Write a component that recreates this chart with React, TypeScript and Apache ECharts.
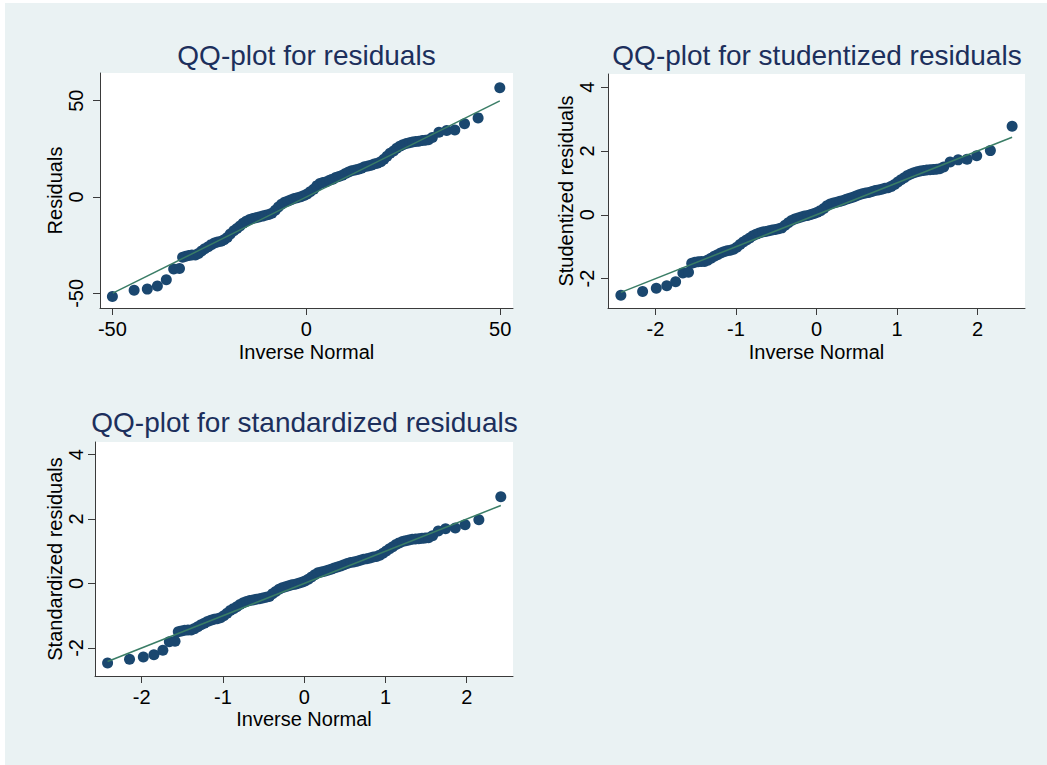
import React, { useEffect, useRef } from "react";
import * as echarts from "echarts";

// ---------- data ----------
// Panel 1: residuals
const residX = [
  -50.0, -44.4, -41.0, -38.4, -36.1, -34.2, -32.7,
  -31.9, -31.1, -30.3, -29.5, -28.6, -27.8, -27.0, -26.2, -25.3, -24.5, -23.7, -22.9, -22.0, -21.2, -20.4, -19.6,
  -18.7, -17.9, -17.1, -16.3, -15.5, -14.6, -13.8, -13.0, -12.2, -11.3, -10.5, -9.7, -8.9, -8.0, -7.2, -6.4,
  -5.6, -4.7, -3.9, -3.1, -2.3, -1.4, -0.6, 0.2, 1.0, 1.9, 2.7, 3.5, 4.3, 5.2, 6.0, 6.8, 7.6, 8.4, 9.3, 10.1,
  10.9, 11.7, 12.6, 13.4, 14.2, 15.0, 15.9, 16.7, 17.5, 18.3, 19.2, 20.0, 20.8, 21.6, 22.5, 23.3, 24.1, 24.9,
  25.8, 26.6, 27.4, 28.2, 29.0, 29.9, 30.7, 31.5, 32.5,
  34.2, 36.2, 38.3, 40.8, 44.3, 49.9,
];
const residY = [
  -51.6, -48.4, -47.8, -46.2, -42.9, -37.4, -37.1,
  -31.3, -30.7, -30.3, -30.1, -30.1, -29.3, -28.0, -26.8, -25.8, -24.7, -23.9, -23.3, -22.9, -22.2, -21.0, -19.2,
  -17.5, -16.3, -15.0, -13.6, -12.6, -11.7, -11.1, -10.7, -10.3, -9.9, -9.5, -9.1, -8.4, -6.8, -5.2, -3.7,
  -2.7, -2.1, -1.4, -0.8, -0.4, 0.2, 0.8, 1.6, 2.7, 4.1, 5.8, 7.0, 7.6, 8.0, 8.7, 9.3, 10.1, 10.7, 11.3, 12.2,
  13.0, 13.6, 14.0, 14.4, 15.0, 15.7, 16.1, 16.5, 17.1, 17.5, 18.3, 19.6, 21.2, 22.7, 23.9, 25.3, 26.4, 27.2,
  27.8, 28.2, 28.6, 28.8, 29.0, 29.3, 29.5, 29.7, 30.9,
  33.6, 34.6, 34.8, 38.0, 41.1, 56.8,
];
const residLineX = [-49.9, 49.9];
const residLineY = [-49.9, 49.9];

// Panel 2: studentized residuals
const studX = [
  -2.43, -2.16, -1.99, -1.86, -1.75, -1.66, -1.59,
  -1.55, -1.51, -1.47, -1.43, -1.39, -1.35, -1.31, -1.27, -1.23, -1.19, -1.15, -1.11, -1.07, -1.03, -0.99, -0.95,
  -0.91, -0.87, -0.83, -0.79, -0.75, -0.71, -0.67, -0.63, -0.59, -0.55, -0.51, -0.47, -0.43, -0.39, -0.35, -0.31,
  -0.27, -0.23, -0.19, -0.15, -0.11, -0.07, -0.03, 0.01, 0.05, 0.09, 0.13, 0.17, 0.21, 0.25, 0.29, 0.33, 0.37,
  0.41, 0.45, 0.49, 0.53, 0.57, 0.61, 0.65, 0.69, 0.73, 0.77, 0.81, 0.85, 0.89, 0.93, 0.97, 1.01, 1.05, 1.09,
  1.13, 1.17, 1.21, 1.25, 1.29, 1.33, 1.37, 1.41, 1.45, 1.49, 1.53, 1.58,
  1.66, 1.76, 1.87, 1.99, 2.16, 2.43,
];
const studY = [
  -2.52, -2.40, -2.30, -2.22, -2.10, -1.82, -1.80,
  -1.52, -1.49, -1.47, -1.46, -1.46, -1.42, -1.36, -1.30, -1.25, -1.20, -1.16, -1.13, -1.11, -1.08, -1.02, -0.93,
  -0.85, -0.79, -0.73, -0.66, -0.61, -0.57, -0.54, -0.52, -0.50, -0.48, -0.46, -0.44, -0.41, -0.33, -0.25, -0.18,
  -0.13, -0.10, -0.07, -0.04, -0.02, 0.01, 0.04, 0.08, 0.13, 0.20, 0.28, 0.34, 0.37, 0.39, 0.42, 0.45, 0.49,
  0.52, 0.55, 0.59, 0.63, 0.66, 0.68, 0.70, 0.73, 0.76, 0.78, 0.80, 0.83, 0.85, 0.89, 0.95, 1.03, 1.10, 1.16,
  1.23, 1.28, 1.32, 1.35, 1.37, 1.39, 1.40, 1.41, 1.42, 1.43, 1.44, 1.50,
  1.65, 1.72, 1.74, 1.85, 2.01, 2.77,
];
const studLineX = [-2.43, 2.43];
const studLineY = [-2.43, 2.43];

// Panel 3: standardized residuals
const standX = [
  -2.42, -2.15, -1.98, -1.85, -1.74, -1.66, -1.59,
  -1.55, -1.51, -1.47, -1.43, -1.39, -1.35, -1.31, -1.27, -1.23, -1.19, -1.15, -1.11, -1.07, -1.03, -0.99, -0.95,
  -0.91, -0.87, -0.83, -0.79, -0.75, -0.71, -0.67, -0.63, -0.59, -0.55, -0.51, -0.47, -0.43, -0.39, -0.35, -0.31,
  -0.27, -0.23, -0.19, -0.15, -0.11, -0.07, -0.03, 0.01, 0.05, 0.09, 0.13, 0.17, 0.21, 0.25, 0.29, 0.33, 0.37,
  0.41, 0.45, 0.49, 0.53, 0.57, 0.61, 0.65, 0.69, 0.73, 0.77, 0.81, 0.85, 0.89, 0.93, 0.97, 1.01, 1.05, 1.09,
  1.13, 1.17, 1.21, 1.25, 1.29, 1.33, 1.37, 1.41, 1.45, 1.49, 1.53, 1.58,
  1.65, 1.74, 1.86, 1.98, 2.15, 2.42,
];
const standY = [
  -2.47, -2.35, -2.28, -2.21, -2.07, -1.81, -1.79,
  -1.50, -1.47, -1.45, -1.44, -1.44, -1.40, -1.34, -1.28, -1.23, -1.18, -1.14, -1.11, -1.09, -1.06, -1.00, -0.92,
  -0.84, -0.78, -0.72, -0.65, -0.60, -0.56, -0.53, -0.51, -0.49, -0.47, -0.45, -0.43, -0.40, -0.32, -0.25, -0.18,
  -0.13, -0.10, -0.07, -0.04, -0.02, 0.01, 0.04, 0.08, 0.13, 0.20, 0.27, 0.33, 0.36, 0.38, 0.41, 0.44, 0.48,
  0.51, 0.54, 0.58, 0.62, 0.65, 0.67, 0.69, 0.72, 0.75, 0.77, 0.79, 0.82, 0.84, 0.88, 0.94, 1.01, 1.08, 1.14,
  1.21, 1.26, 1.30, 1.33, 1.35, 1.37, 1.38, 1.39, 1.40, 1.41, 1.42, 1.48,
  1.63, 1.70, 1.72, 1.82, 1.98, 2.69,
];
const standLineX = [-2.42, 2.42];
const standLineY = [-2.42, 2.42];

// tick labels
const residTicks = [-50, 0, 50];
const zXTicks = [-2, -1, 0, 1, 2];
const zYTicks = [-2, 0, 2, 4];

const titles = [
  "QQ-plot for residuals",
  "QQ-plot for studentized residuals",
  "QQ-plot for standardized residuals",
];
const yNames = ["Residuals", "Studentized residuals", "Standardized residuals"];
const xName = "Inverse Normal";

// ---------- styling ----------
const FONT = "'Liberation Sans', Arial, Helvetica, sans-serif";
const NAVY = "#1a476f";
const LINE = "#3a7d66";
const TITLE = "#1c2f5c";
const AXIS = "#3a3a3a";

function zip(xs: number[], ys: number[]) {
  const n = Math.min(xs.length, ys.length);
  const out: number[][] = [];
  for (let i = 0; i < n; i++) out.push([xs[i], ys[i]]);
  return out;
}

export default function App() {
  const ref = useRef<HTMLDivElement>(null);
  useEffect(() => {
    document.body.style.margin = "0";
    const chart = echarts.init(ref.current!, null, { renderer: "svg" });

    const panels = [
      {
        grid: { left: 100, top: 73, width: 413, height: 235 },
        xMin: -53.2, xMax: 53.3, yMin: -57.6, yMax: 64.4,
        xTicks: residTicks, yTicks: residTicks,
        yLabelMargin: 14, yNameGap: 35, xLabelMargin: 11, xNameGap: 34,
        pts: zip(residX, residY), line: zip(residLineX, residLineY),
        title: titles[0], tx: 306.5, ty: 55.5, yName: yNames[0],
      },
      {
        grid: { left: 608, top: 74, width: 417, height: 234 },
        xMin: -2.59, xMax: 2.59, yMin: -2.92, yMax: 4.41,
        xTicks: zXTicks, yTicks: zYTicks,
        yLabelMargin: 11, yNameGap: 32, xLabelMargin: 11, xNameGap: 33.5,
        pts: zip(studX, studY), line: zip(studLineX, studLineY),
        title: titles[1], tx: 817, ty: 55, yName: yNames[1],
      },
      {
        grid: { left: 95, top: 442, width: 418, height: 234 },
        xMin: -2.575, xMax: 2.57, yMin: -2.87, yMax: 4.39,
        xTicks: zXTicks, yTicks: zYTicks,
        yLabelMargin: 9, yNameGap: 30, xLabelMargin: 10.5, xNameGap: 32.5,
        pts: zip(standX, standY), line: zip(standLineX, standLineY),
        title: titles[2], tx: 304.5, ty: 422.5, yName: yNames[2],
      },
    ];

    const axisLine = { show: true, onZero: false, lineStyle: { color: AXIS, width: 1 } };
    const labelStyle = { fontSize: 20, color: "#000", fontFamily: FONT };

    const option: any = {
      animation: false,
      textStyle: { fontFamily: FONT },
      grid: panels.map((p) => ({
        ...p.grid,
        show: true,
        backgroundColor: "#ffffff",
        borderWidth: 0,
        containLabel: false,
      })),
      xAxis: panels.map((p, i) => ({
        gridIndex: i,
        type: "value",
        min: p.xMin,
        max: p.xMax,
        axisLine,
        axisTick: { show: true, length: 7, customValues: p.xTicks, lineStyle: { color: AXIS, width: 1 } },
        axisLabel: { ...labelStyle, customValues: p.xTicks, margin: p.xLabelMargin },
        splitLine: { show: false },
        name: xName,
        nameLocation: "middle",
        nameGap: p.xNameGap,
        nameTextStyle: labelStyle,
      })),
      yAxis: panels.map((p, i) => ({
        gridIndex: i,
        type: "value",
        min: p.yMin,
        max: p.yMax,
        axisLine,
        axisTick: { show: true, length: 7, customValues: p.yTicks, lineStyle: { color: AXIS, width: 1 } },
        axisLabel: { ...labelStyle, customValues: p.yTicks, rotate: 90, margin: p.yLabelMargin },
        splitLine: { show: false },
        name: p.yName,
        nameLocation: "middle",
        nameRotate: 90,
        nameGap: p.yNameGap,
        nameTextStyle: labelStyle,
      })),
      series: panels.flatMap((p, i) => [
        {
          type: "scatter",
          xAxisIndex: i,
          yAxisIndex: i,
          data: p.pts,
          symbol: "circle",
          symbolSize: 11,
          itemStyle: { color: NAVY, opacity: 1 },
          z: 2,
        },
        {
          type: "line",
          xAxisIndex: i,
          yAxisIndex: i,
          data: p.line,
          symbol: "none",
          lineStyle: { color: LINE, width: 1.5 },
          z: 3,
        },
      ]),
      graphic: panels.map((p) => ({
        type: "text",
        x: p.tx,
        y: p.ty,
        style: {
          text: p.title,
          fontSize: 28,
          fontFamily: FONT,
          fill: TITLE,
          align: "center",
          verticalAlign: "middle",
        },
      })),
    };

    chart.setOption(option);
    return () => chart.dispose();
  }, []);

  return (
    <div
      ref={ref}
      style={{
        width: 1047,
        height: 765,
        background:
          "linear-gradient(#eaf2f3, #eaf2f3) 5px 3px / 1042px 762px no-repeat, #ffffff",
      }}
    />
  );
}
